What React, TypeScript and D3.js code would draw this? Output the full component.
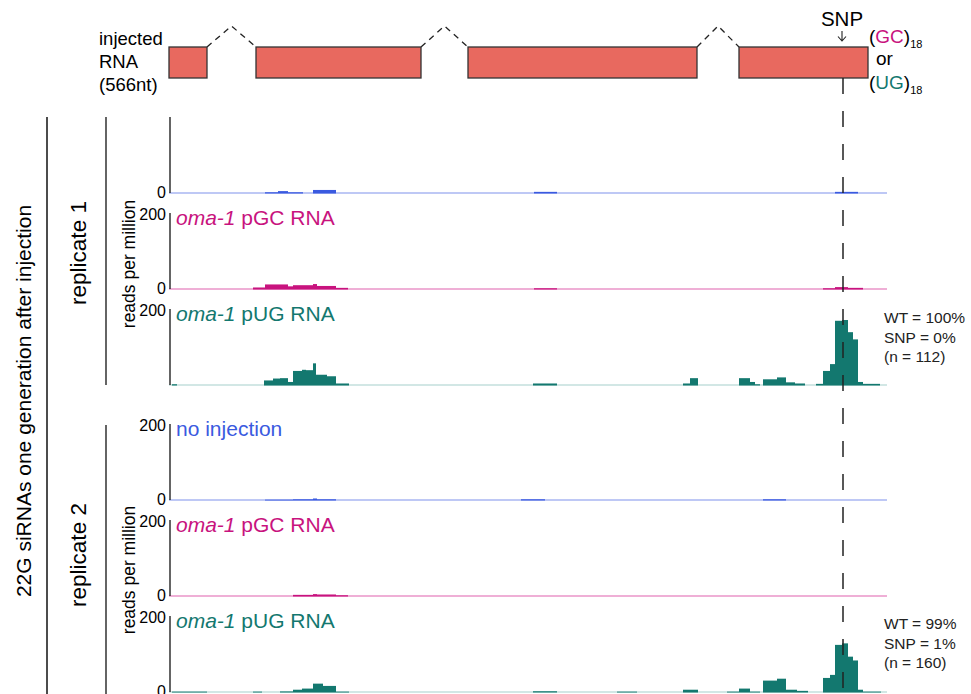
import * as d3 from 'd3'

// genomic position (arbitrary units, ~1 per nt) -> rpm, as [start, end, rpm]
const rep1NoInjection: [number, number, number][] = [
  [96, 109, 2], [109, 119, 5], [119, 134, 2], [144, 167, 8], [365, 388, 3], [666, 689, 3],
]
const rep1PGC: [number, number, number][] = [
  [84, 96, 4], [96, 119, 12], [119, 124, 7], [124, 144, 10], [144, 148, 13], [148, 167, 8],
  [167, 179, 3], [365, 388, 2], [654, 666, 2], [666, 679, 5], [679, 694, 3],
]
const rep1PUG: [number, number, number][] = [
  [3, 8, 2], [95, 104, 12], [104, 111, 17], [111, 119, 18], [119, 124, 8], [124, 133, 37],
  [133, 137, 40], [137, 144, 39], [144, 147, 57], [147, 158, 27], [158, 167, 23], [167, 180, 4],
  [364, 388, 4], [514, 521, 4], [521, 529, 18], [570, 581, 18], [581, 586, 8], [586, 591, 2],
  [594, 608, 15], [608, 617, 20], [617, 626, 7], [626, 636, 4], [647, 654, 3], [654, 661, 37],
  [661, 666, 55], [666, 673, 169], [673, 679, 171], [679, 684, 139], [684, 689, 120],
  [689, 694, 8], [694, 711, 3],
]
const rep2NoInjection: [number, number, number][] = [
  [96, 124, 1], [124, 144, 2], [144, 148, 4], [148, 167, 2], [352, 376, 2], [594, 617, 2],
]
const rep2PGC: [number, number, number][] = [
  [124, 144, 3], [144, 148, 5], [148, 158, 4], [158, 167, 4], [167, 179, 2],
]
const rep2PUG: [number, number, number][] = [
  [3, 38, 1], [84, 93, 1], [111, 124, 1.5], [124, 133, 6], [133, 144, 9], [144, 154, 22],
  [154, 167, 16], [167, 180, 1], [364, 388, 2], [448, 468, 1], [514, 529, 6], [558, 570, 1],
  [570, 581, 9], [581, 591, 1], [594, 608, 30], [608, 617, 35], [617, 628, 6], [628, 639, 3],
  [654, 661, 37], [661, 666, 45], [666, 673, 124], [673, 679, 128], [679, 684, 93],
  [684, 689, 83], [689, 694, 6], [694, 712, 1],
]

const exons: [number, number][] = [[0, 38], [87, 252], [299, 528], [570, 699]]
const snpPos = 674
const yTicks = ['200', '0']
const rep1Stats = ['WT = 100%', 'SNP = 0%', '(n = 112)']
const rep2Stats = ['WT = 99%', 'SNP = 1%', '(n = 160)']

const FONT = '"Liberation Sans", Arial, sans-serif'
const BLUE = '#3a5ae0'
const MAGENTA = '#c8137e'
const TEAL = '#13786f'

const palette: Record<string, { bar: string; base: string }> = {
  blue: { bar: BLUE, base: '#a9b6f2' },
  pgc: { bar: MAGENTA, base: '#ea94c9' },
  pug: { bar: TEAL, base: '#c3dfdc' },
}

interface Track {
  top: number
  data: [number, number, number][]
  kind: string
  title?: string
  top200: boolean
  zero: boolean
}

const H = 76
const tracks: Track[] = [
  { top: 117, data: rep1NoInjection, kind: 'blue', top200: false, zero: true },
  { top: 213, data: rep1PGC, kind: 'pgc', title: 'pGC RNA', top200: true, zero: true },
  { top: 309, data: rep1PUG, kind: 'pug', title: 'pUG RNA', top200: true, zero: false },
  { top: 424, data: rep2NoInjection, kind: 'blue', title: 'no injection', top200: true, zero: true },
  { top: 520, data: rep2PGC, kind: 'pgc', title: 'pGC RNA', top200: true, zero: true },
  { top: 616, data: rep2PUG, kind: 'pug', title: 'pUG RNA', top200: true, zero: true },
]

function TrackView({ t, x }: { t: Track; x: d3.ScaleLinear<number, number> }) {
  const base = t.top + H
  const y = d3.scaleLinear().domain([0, 200]).range([base, t.top])
  const c = palette[t.kind]
  const [x0, x1] = x.range()
  return (
    <g>
      <line x1={x0} x2={x1} y1={base} y2={base} stroke={c.base} strokeWidth={1.5} />
      {t.data.map(([s, e, v], i) => (
        <rect key={i} x={x(s)} width={x(e) - x(s)} y={y(v)} height={base + 0.5 - y(v)} fill={c.bar} />
      ))}
      <line x1={x0 + 1} x2={x0 + 1} y1={t.top} y2={base} stroke="#111" strokeWidth={1.3} />
      {t.top200 && (
        <text x={166} y={y(200) + 6.5} textAnchor="end" fontSize={16}>{yTicks[0]}</text>
      )}
      {t.zero && (
        <text x={166} y={y(0) + 4.5} textAnchor="end" fontSize={16}>{yTicks[1]}</text>
      )}
      {t.title && (
        <text x={176} y={t.top + 12} fontSize={21} fill={c.bar}>
          {t.kind !== 'blue' && <tspan fontStyle="italic">oma-1 </tspan>}
          {t.title}
        </text>
      )}
    </g>
  )
}

export default function App() {
  const width = 971
  const height = 694
  const x = d3.scaleLinear().domain([0, 718]).range([169, 887])
  const exTop = 47
  const exBot = 78
  const intronPeak = 26
  const snpX = x(snpPos)

  return (
    <svg width={width} height={height} style={{ position: 'absolute', left: 0, top: 0, background: '#fff' }}
      fontFamily={FONT}>
      {/* gene model */}
      <text fontSize={18.5} x={99}>
        <tspan x={99} y={45}>injected</tspan>
        <tspan x={99} y={68}>RNA</tspan>
        <tspan x={99} y={91}>(566nt)</tspan>
      </text>
      {exons.slice(1).map(([s], i) => {
        const prevEnd = exons[i][1]
        const mid = (x(prevEnd) + x(s)) / 2
        return (
          <path key={'in' + i} d={`M${x(prevEnd)},${exTop} L${mid},${intronPeak} L${x(s)},${exTop}`}
            fill="none" stroke="#222" strokeWidth={1.3} strokeDasharray="6 5" />
        )
      })}
      {exons.map(([s, e], i) => (
        <rect key={'ex' + i} x={x(s)} y={exTop} width={x(e) - x(s)} height={exBot - exTop}
          fill="#e8695f" stroke="#333" strokeWidth={1.3} />
      ))}
      <text x={snpX - 1} y={26} fontSize={20.5} textAnchor="middle">SNP</text>
      <path d={`M${snpX - 1},31 L${snpX - 1},41 M${snpX - 5},36.5 L${snpX - 1},41 L${snpX + 3},36.5`}
        fill="none" stroke="#222" strokeWidth={1.1} />
      <text x={869} y={43} fontSize={19}>
        (<tspan fill={MAGENTA}>GC</tspan>)<tspan fontSize={11} dy={5}>18</tspan>
      </text>
      <text x={876} y={65} fontSize={19}>or</text>
      <text x={869} y={89} fontSize={19}>
        (<tspan fill={TEAL}>UG</tspan>)<tspan fontSize={11} dy={5}>18</tspan>
      </text>

      {/* tracks */}
      {tracks.map((t, i) => <TrackView key={i} t={t} x={x} />)}

      {/* SNP dashed line */}
      <line x1={snpX} x2={snpX} y1={exBot} y2={height} stroke="#222" strokeWidth={1.5} strokeDasharray="16 17" />

      {/* stats */}
      <text fontSize={15.5} fill="#222">
        {rep1Stats.map((s, i) => <tspan key={i} x={884} y={323 + i * 19.5}>{s}</tspan>)}
      </text>
      <text fontSize={15.5} fill="#222">
        {rep2Stats.map((s, i) => <tspan key={i} x={884} y={629 + i * 19.5}>{s}</tspan>)}
      </text>

      {/* left labels */}
      <line x1={47} x2={47} y1={117} y2={694} stroke="#111" strokeWidth={1.5} />
      <line x1={106} x2={106} y1={117} y2={385} stroke="#111" strokeWidth={1.3} />
      <line x1={106} x2={106} y1={425} y2={694} stroke="#111" strokeWidth={1.3} />
      <text transform="translate(31,401) rotate(-90)" textAnchor="middle" fontSize={21}>
        22G siRNAs one generation after injection
      </text>
      <text transform="translate(86,253) rotate(-90)" textAnchor="middle" fontSize={22.5}>replicate 1</text>
      <text transform="translate(86,555) rotate(-90)" textAnchor="middle" fontSize={22.5}>replicate 2</text>
      <text transform="translate(135,264) rotate(-90)" textAnchor="middle" fontSize={17.5}>reads per million</text>
      <text transform="translate(135,570) rotate(-90)" textAnchor="middle" fontSize={17.5}>reads per million</text>
    </svg>
  )
}
